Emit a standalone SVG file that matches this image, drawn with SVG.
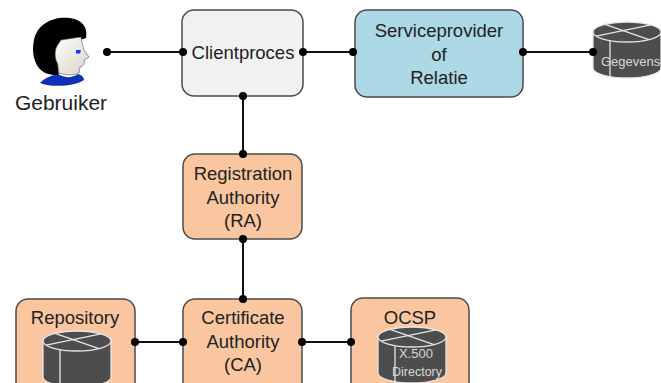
<svg xmlns="http://www.w3.org/2000/svg" width="661" height="383" viewBox="0 0 661 383">
  <style>
    .box { stroke: #4a4a4a; stroke-width: 1.5; }
    .grey { fill: #f1f1f1; }
    .blue { fill: #add8e6; }
    .peach { fill: #f9c6a0; }
    .lbl { font-family: "Liberation Sans", Arial, sans-serif; font-size: 18.5px; fill: #222; text-anchor: middle; }
    .dblbl { font-family: "Liberation Sans", Arial, sans-serif; fill: #d8d8d8; }
    .wire { stroke: #111; stroke-width: 2; fill: none; }
    .dot { fill: #000; }
  </style>
  <defs>
    <linearGradient id="skin" x1="0" y1="0" x2="1" y2="1">
      <stop offset="0" stop-color="#ffffff"/>
      <stop offset="1" stop-color="#d8d2c4"/>
    </linearGradient>
    <!-- database drum: 68 wide, ellipse ry 10 -->
    <g id="drum">
      <path d="M0 10 L0 46 A34 10 0 0 0 68 46 L68 10 Z" fill="#4d4d4d" stroke="#e6e6e6" stroke-width="1.3"/>
      <ellipse cx="34" cy="10" rx="34" ry="10" fill="#4d4d4d" stroke="#e6e6e6" stroke-width="1.3"/>
      <line x1="12" y1="2.4" x2="56" y2="17.6" stroke="#e6e6e6" stroke-width="1.3"/>
      <line x1="3" y1="14.1" x2="58" y2="2.9" stroke="#e6e6e6" stroke-width="1.3"/>
      <line x1="17" y1="18.7" x2="17" y2="54.7" stroke="#e6e6e6" stroke-width="1.3"/>
    </g>
  </defs>

  <!-- connectors -->
  <g id="connectors">
    <line class="wire" x1="107" y1="52" x2="183" y2="52"/>
    <line class="wire" x1="303" y1="52" x2="355" y2="52"/>
    <line class="wire" x1="523" y1="52" x2="593" y2="52"/>
    <line class="wire" x1="243" y1="96" x2="243" y2="154"/>
    <line class="wire" x1="243" y1="239" x2="243" y2="299"/>
    <line class="wire" x1="135" y1="342" x2="183" y2="342"/>
    <line class="wire" x1="302" y1="342" x2="351" y2="342"/>
  </g>

  <!-- user -->
  <g id="gebruiker">
    <path d="M48 74 C35 70 31 54 34 40 C37 24 53 16 70 18 C83 20 88 28 86 38 L80 40 L64 42 L57 60 L59 76 Z" fill="#000"/>
    <path d="M61 40 L81 37 C82 43 83 47 84 50 L89 57 L84 60 C85 63 84 66 80 67 L79 73 C72 76 65 75 59 73 L58 64 C55 60 54 52 57 46 Z" fill="url(#skin)" stroke="#555" stroke-width="0.6"/>
    <path d="M76 50 L81 50 L80 53.5 L76 53.5 Z" fill="#2030ff"/>
    <path d="M40 83 C46 77 54 74 60 75 C66 78 72 78 78 74 C82 75 84 78 84 80 C76 86 52 88 40 83 Z" fill="#1030b8"/>
    <text x="61" y="110" font-family="Liberation Sans, Arial, sans-serif" font-size="21" fill="#222" text-anchor="middle">Gebruiker</text>
  </g>

  <g id="clientproces">
    <rect class="box grey" x="182" y="10" width="121" height="86" rx="12"/>
    <text class="lbl" x="243" y="59">Clientproces</text>
  </g>

  <g id="serviceprovider">
    <rect class="box blue" x="355" y="10" width="168" height="87" rx="12"/>
    <text class="lbl" x="439" y="37">Serviceprovider</text>
    <text class="lbl" x="439" y="61">of</text>
    <text class="lbl" x="439" y="84">Relatie</text>
  </g>

  <g id="gegevens">
    <use href="#drum" x="593" y="22"/>
    <text class="dblbl" x="601" y="66" font-size="13">Gegevens</text>
  </g>

  <g id="ra">
    <rect class="box peach" x="183" y="154" width="119" height="85" rx="12"/>
    <text class="lbl" x="243" y="180">Registration</text>
    <text class="lbl" x="243" y="204">Authority</text>
    <text class="lbl" x="243" y="227">(RA)</text>
  </g>

  <g id="repository">
    <rect class="box peach" x="16" y="299" width="119" height="100" rx="12"/>
    <text class="lbl" x="75" y="324">Repository</text>
    <use href="#drum" x="43" y="331"/>
  </g>

  <g id="ca">
    <rect class="box peach" x="183" y="299" width="119" height="100" rx="12"/>
    <text class="lbl" x="243" y="324">Certificate</text>
    <text class="lbl" x="243" y="348">Authority</text>
    <text class="lbl" x="243" y="371">(CA)</text>
  </g>

  <g id="ocsp">
    <rect class="box peach" x="351" y="298" width="118" height="100" rx="12"/>
    <text class="lbl" x="410" y="324">OCSP</text>
    <use href="#drum" x="378" y="327"/>
    <text class="dblbl" x="416" y="358" font-size="13" text-anchor="middle">X.500</text>
    <text class="dblbl" x="417" y="376" font-size="12.5" text-anchor="middle">Directory</text>
  </g>

  <!-- connection points -->
  <g id="ports">
    <circle class="dot" cx="107" cy="52" r="4"/>
    <circle class="dot" cx="183" cy="52" r="4"/>
    <circle class="dot" cx="303" cy="52" r="4"/>
    <circle class="dot" cx="353" cy="52" r="4"/>
    <circle class="dot" cx="523" cy="52" r="4"/>
    <circle class="dot" cx="593" cy="52" r="4"/>
    <circle class="dot" cx="243" cy="96" r="4"/>
    <circle class="dot" cx="243" cy="154" r="4"/>
    <circle class="dot" cx="243" cy="239" r="4"/>
    <circle class="dot" cx="243" cy="299" r="4"/>
    <circle class="dot" cx="135" cy="342" r="4"/>
    <circle class="dot" cx="183" cy="342" r="4"/>
    <circle class="dot" cx="302" cy="342" r="4"/>
    <circle class="dot" cx="351" cy="342" r="4"/>
  </g>
</svg>
